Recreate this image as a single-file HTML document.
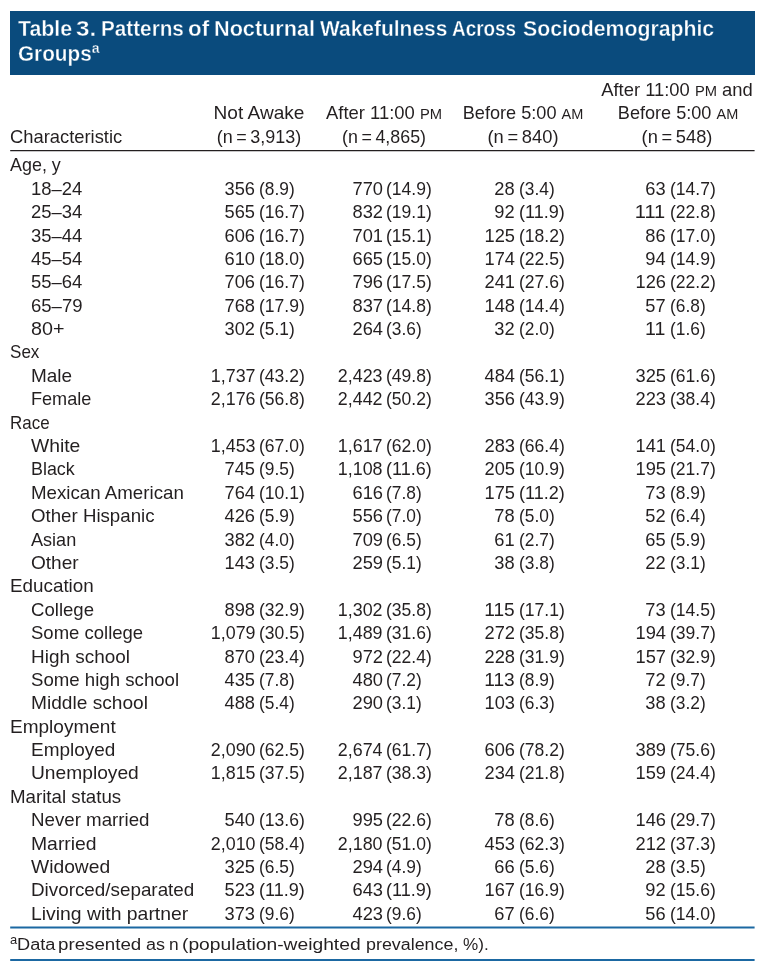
<!DOCTYPE html>
<html lang="en"><head><meta charset="utf-8"><title>Table 3. Patterns of Nocturnal Wakefulness Across Sociodemographic Groups</title>
<style>
html,body{margin:0;padding:0;background:#fff;}
body{width:768px;height:977px;position:relative;overflow:hidden;font-family:"Liberation Sans",Arial,sans-serif;color:#231f20;}
#page{position:absolute;left:0;top:0;width:768px;height:977px;will-change:transform;}
.t{position:absolute;white-space:nowrap;line-height:1;display:block;}
.l{transform-origin:0 0;}.r{transform-origin:100% 0;}.c{transform-origin:50% 0;}
.ti{color:#fff;font-weight:bold;-webkit-text-stroke:0.35px #0a4b7d;}
.sc{font-size:0.8em;}
.sup{font-size:0.68em;position:relative;top:-0.52em;}

#band{position:absolute;left:10px;top:11px;width:745px;height:64px;background:#0a4b7d;}
</style></head><body>
<div id="page">
<div id="band"></div>
<svg id="rules" width="768" height="977" viewBox="0 0 768 977" style="position:absolute;left:0;top:0"><line x1="10.2" x2="754.6" y1="150.6" y2="150.6" stroke="#231f20" stroke-width="1.3"/><line x1="10.2" x2="754.6" y1="927.5" y2="927.5" stroke="#1b68a2" stroke-width="1.8"/><line x1="10.2" x2="754.6" y1="960.0" y2="960.0" stroke="#1b68a2" stroke-width="1.8"/></svg>
<div id="t0" class="t l " style="top:156.00px;font-size:18.60px;left:10.00px;transform:scaleX(0.9637);"><span>Age, y</span></div>
<div id="t1" class="t l " style="top:180.00px;font-size:18.60px;left:31.00px;transform:scaleX(0.9934);"><span>18–24</span></div>
<div id="t2" class="t r " style="top:180.00px;font-size:18.60px;right:512.60px;transform:scaleX(0.9820);"><span>356</span></div>
<div id="t3" class="t l " style="top:180.00px;font-size:18.60px;left:258.90px;transform:scaleX(0.9327);"><span>(8.9)</span></div>
<div id="t4" class="t r " style="top:180.00px;font-size:18.60px;right:385.10px;transform:scaleX(0.9820);"><span>770</span></div>
<div id="t5" class="t l " style="top:180.00px;font-size:18.60px;left:386.40px;transform:scaleX(0.9432);"><span>(14.9)</span></div>
<div id="t6" class="t r " style="top:180.00px;font-size:18.60px;right:253.10px;transform:scaleX(0.9820);"><span>28</span></div>
<div id="t7" class="t l " style="top:180.00px;font-size:18.60px;left:518.80px;transform:scaleX(0.9327);"><span>(3.4)</span></div>
<div id="t8" class="t r " style="top:180.00px;font-size:18.60px;right:102.40px;transform:scaleX(0.9820);"><span>63</span></div>
<div id="t9" class="t l " style="top:180.00px;font-size:18.60px;left:669.80px;transform:scaleX(0.9432);"><span>(14.7)</span></div>
<div id="t10" class="t l " style="top:203.00px;font-size:18.60px;left:31.00px;transform:scaleX(0.9934);"><span>25–34</span></div>
<div id="t11" class="t r " style="top:203.00px;font-size:18.60px;right:512.60px;transform:scaleX(0.9820);"><span>565</span></div>
<div id="t12" class="t l " style="top:203.00px;font-size:18.60px;left:258.90px;transform:scaleX(0.9432);"><span>(16.7)</span></div>
<div id="t13" class="t r " style="top:203.00px;font-size:18.60px;right:385.10px;transform:scaleX(0.9820);"><span>832</span></div>
<div id="t14" class="t l " style="top:203.00px;font-size:18.60px;left:386.40px;transform:scaleX(0.9432);"><span>(19.1)</span></div>
<div id="t15" class="t r " style="top:203.00px;font-size:18.60px;right:253.10px;transform:scaleX(0.9820);"><span>92</span></div>
<div id="t16" class="t l " style="top:203.00px;font-size:18.60px;left:518.80px;transform:scaleX(0.9706);"><span>(11.9)</span></div>
<div id="t17" class="t r " style="top:203.00px;font-size:18.60px;right:102.40px;transform:scaleX(1.0781);"><span>111</span></div>
<div id="t18" class="t l " style="top:203.00px;font-size:18.60px;left:669.80px;transform:scaleX(0.9432);"><span>(22.8)</span></div>
<div id="t19" class="t l " style="top:227.00px;font-size:18.60px;left:31.00px;transform:scaleX(0.9934);"><span>35–44</span></div>
<div id="t20" class="t r " style="top:227.00px;font-size:18.60px;right:512.60px;transform:scaleX(0.9820);"><span>606</span></div>
<div id="t21" class="t l " style="top:227.00px;font-size:18.60px;left:258.90px;transform:scaleX(0.9432);"><span>(16.7)</span></div>
<div id="t22" class="t r " style="top:227.00px;font-size:18.60px;right:385.10px;transform:scaleX(0.9820);"><span>701</span></div>
<div id="t23" class="t l " style="top:227.00px;font-size:18.60px;left:386.40px;transform:scaleX(0.9432);"><span>(15.1)</span></div>
<div id="t24" class="t r " style="top:227.00px;font-size:18.60px;right:253.10px;transform:scaleX(0.9820);"><span>125</span></div>
<div id="t25" class="t l " style="top:227.00px;font-size:18.60px;left:518.80px;transform:scaleX(0.9432);"><span>(18.2)</span></div>
<div id="t26" class="t r " style="top:227.00px;font-size:18.60px;right:102.40px;transform:scaleX(0.9820);"><span>86</span></div>
<div id="t27" class="t l " style="top:227.00px;font-size:18.60px;left:669.80px;transform:scaleX(0.9432);"><span>(17.0)</span></div>
<div id="t28" class="t l " style="top:250.00px;font-size:18.60px;left:31.00px;transform:scaleX(0.9934);"><span>45–54</span></div>
<div id="t29" class="t r " style="top:250.00px;font-size:18.60px;right:512.60px;transform:scaleX(0.9820);"><span>610</span></div>
<div id="t30" class="t l " style="top:250.00px;font-size:18.60px;left:258.90px;transform:scaleX(0.9432);"><span>(18.0)</span></div>
<div id="t31" class="t r " style="top:250.00px;font-size:18.60px;right:385.10px;transform:scaleX(0.9820);"><span>665</span></div>
<div id="t32" class="t l " style="top:250.00px;font-size:18.60px;left:386.40px;transform:scaleX(0.9432);"><span>(15.0)</span></div>
<div id="t33" class="t r " style="top:250.00px;font-size:18.60px;right:253.10px;transform:scaleX(0.9820);"><span>174</span></div>
<div id="t34" class="t l " style="top:250.00px;font-size:18.60px;left:518.80px;transform:scaleX(0.9432);"><span>(22.5)</span></div>
<div id="t35" class="t r " style="top:250.00px;font-size:18.60px;right:102.40px;transform:scaleX(0.9820);"><span>94</span></div>
<div id="t36" class="t l " style="top:250.00px;font-size:18.60px;left:669.80px;transform:scaleX(0.9432);"><span>(14.9)</span></div>
<div id="t37" class="t l " style="top:273.00px;font-size:18.60px;left:31.00px;transform:scaleX(0.9934);"><span>55–64</span></div>
<div id="t38" class="t r " style="top:273.00px;font-size:18.60px;right:512.60px;transform:scaleX(0.9820);"><span>706</span></div>
<div id="t39" class="t l " style="top:273.00px;font-size:18.60px;left:258.90px;transform:scaleX(0.9432);"><span>(16.7)</span></div>
<div id="t40" class="t r " style="top:273.00px;font-size:18.60px;right:385.10px;transform:scaleX(0.9820);"><span>796</span></div>
<div id="t41" class="t l " style="top:273.00px;font-size:18.60px;left:386.40px;transform:scaleX(0.9432);"><span>(17.5)</span></div>
<div id="t42" class="t r " style="top:273.00px;font-size:18.60px;right:253.10px;transform:scaleX(0.9820);"><span>241</span></div>
<div id="t43" class="t l " style="top:273.00px;font-size:18.60px;left:518.80px;transform:scaleX(0.9432);"><span>(27.6)</span></div>
<div id="t44" class="t r " style="top:273.00px;font-size:18.60px;right:102.40px;transform:scaleX(0.9820);"><span>126</span></div>
<div id="t45" class="t l " style="top:273.00px;font-size:18.60px;left:669.80px;transform:scaleX(0.9432);"><span>(22.2)</span></div>
<div id="t46" class="t l " style="top:297.00px;font-size:18.60px;left:31.00px;transform:scaleX(0.9970);"><span>65–79</span></div>
<div id="t47" class="t r " style="top:297.00px;font-size:18.60px;right:512.60px;transform:scaleX(0.9820);"><span>768</span></div>
<div id="t48" class="t l " style="top:297.00px;font-size:18.60px;left:258.90px;transform:scaleX(0.9432);"><span>(17.9)</span></div>
<div id="t49" class="t r " style="top:297.00px;font-size:18.60px;right:385.10px;transform:scaleX(0.9820);"><span>837</span></div>
<div id="t50" class="t l " style="top:297.00px;font-size:18.60px;left:386.40px;transform:scaleX(0.9432);"><span>(14.8)</span></div>
<div id="t51" class="t r " style="top:297.00px;font-size:18.60px;right:253.10px;transform:scaleX(0.9820);"><span>148</span></div>
<div id="t52" class="t l " style="top:297.00px;font-size:18.60px;left:518.80px;transform:scaleX(0.9432);"><span>(14.4)</span></div>
<div id="t53" class="t r " style="top:297.00px;font-size:18.60px;right:102.40px;transform:scaleX(0.9820);"><span>57</span></div>
<div id="t54" class="t l " style="top:297.00px;font-size:18.60px;left:669.80px;transform:scaleX(0.9327);"><span>(6.8)</span></div>
<div id="t55" class="t l " style="top:320.00px;font-size:18.60px;left:31.00px;transform:scaleX(1.0604);"><span>80+</span></div>
<div id="t56" class="t r " style="top:320.00px;font-size:18.60px;right:512.60px;transform:scaleX(0.9820);"><span>302</span></div>
<div id="t57" class="t l " style="top:320.00px;font-size:18.60px;left:258.90px;transform:scaleX(0.9327);"><span>(5.1)</span></div>
<div id="t58" class="t r " style="top:320.00px;font-size:18.60px;right:385.10px;transform:scaleX(0.9820);"><span>264</span></div>
<div id="t59" class="t l " style="top:320.00px;font-size:18.60px;left:386.40px;transform:scaleX(0.9327);"><span>(3.6)</span></div>
<div id="t60" class="t r " style="top:320.00px;font-size:18.60px;right:253.10px;transform:scaleX(0.9820);"><span>32</span></div>
<div id="t61" class="t l " style="top:320.00px;font-size:18.60px;left:518.80px;transform:scaleX(0.9327);"><span>(2.0)</span></div>
<div id="t62" class="t r " style="top:320.00px;font-size:18.60px;right:102.40px;transform:scaleX(1.0519);"><span>11</span></div>
<div id="t63" class="t l " style="top:320.00px;font-size:18.60px;left:669.80px;transform:scaleX(0.9327);"><span>(1.6)</span></div>
<div id="t64" class="t l " style="top:343.00px;font-size:18.60px;left:10.00px;transform:scaleX(0.9177);"><span>Sex</span></div>
<div id="t65" class="t l " style="top:367.00px;font-size:18.60px;left:31.00px;transform:scaleX(1.0197);"><span>Male</span></div>
<div id="t66" class="t r " style="top:367.00px;font-size:18.60px;right:512.60px;transform:scaleX(0.9613);"><span>1,737</span></div>
<div id="t67" class="t l " style="top:367.00px;font-size:18.60px;left:258.90px;transform:scaleX(0.9432);"><span>(43.2)</span></div>
<div id="t68" class="t r " style="top:367.00px;font-size:18.60px;right:385.10px;transform:scaleX(0.9613);"><span>2,423</span></div>
<div id="t69" class="t l " style="top:367.00px;font-size:18.60px;left:386.40px;transform:scaleX(0.9432);"><span>(49.8)</span></div>
<div id="t70" class="t r " style="top:367.00px;font-size:18.60px;right:253.10px;transform:scaleX(0.9820);"><span>484</span></div>
<div id="t71" class="t l " style="top:367.00px;font-size:18.60px;left:518.80px;transform:scaleX(0.9432);"><span>(56.1)</span></div>
<div id="t72" class="t r " style="top:367.00px;font-size:18.60px;right:102.40px;transform:scaleX(0.9820);"><span>325</span></div>
<div id="t73" class="t l " style="top:367.00px;font-size:18.60px;left:669.80px;transform:scaleX(0.9432);"><span>(61.6)</span></div>
<div id="t74" class="t l " style="top:390.00px;font-size:18.60px;left:31.00px;transform:scaleX(0.9735);"><span>Female</span></div>
<div id="t75" class="t r " style="top:390.00px;font-size:18.60px;right:512.60px;transform:scaleX(0.9613);"><span>2,176</span></div>
<div id="t76" class="t l " style="top:390.00px;font-size:18.60px;left:258.90px;transform:scaleX(0.9432);"><span>(56.8)</span></div>
<div id="t77" class="t r " style="top:390.00px;font-size:18.60px;right:385.10px;transform:scaleX(0.9613);"><span>2,442</span></div>
<div id="t78" class="t l " style="top:390.00px;font-size:18.60px;left:386.40px;transform:scaleX(0.9432);"><span>(50.2)</span></div>
<div id="t79" class="t r " style="top:390.00px;font-size:18.60px;right:253.10px;transform:scaleX(0.9820);"><span>356</span></div>
<div id="t80" class="t l " style="top:390.00px;font-size:18.60px;left:518.80px;transform:scaleX(0.9432);"><span>(43.9)</span></div>
<div id="t81" class="t r " style="top:390.00px;font-size:18.60px;right:102.40px;transform:scaleX(0.9820);"><span>223</span></div>
<div id="t82" class="t l " style="top:390.00px;font-size:18.60px;left:669.80px;transform:scaleX(0.9432);"><span>(38.4)</span></div>
<div id="t83" class="t l " style="top:414.00px;font-size:18.60px;left:10.00px;transform:scaleX(0.9122);"><span>Race</span></div>
<div id="t84" class="t l " style="top:437.00px;font-size:18.60px;left:31.00px;transform:scaleX(1.0384);"><span>White</span></div>
<div id="t85" class="t r " style="top:437.00px;font-size:18.60px;right:512.60px;transform:scaleX(0.9613);"><span>1,453</span></div>
<div id="t86" class="t l " style="top:437.00px;font-size:18.60px;left:258.90px;transform:scaleX(0.9432);"><span>(67.0)</span></div>
<div id="t87" class="t r " style="top:437.00px;font-size:18.60px;right:385.10px;transform:scaleX(0.9613);"><span>1,617</span></div>
<div id="t88" class="t l " style="top:437.00px;font-size:18.60px;left:386.40px;transform:scaleX(0.9432);"><span>(62.0)</span></div>
<div id="t89" class="t r " style="top:437.00px;font-size:18.60px;right:253.10px;transform:scaleX(0.9820);"><span>283</span></div>
<div id="t90" class="t l " style="top:437.00px;font-size:18.60px;left:518.80px;transform:scaleX(0.9432);"><span>(66.4)</span></div>
<div id="t91" class="t r " style="top:437.00px;font-size:18.60px;right:102.40px;transform:scaleX(0.9820);"><span>141</span></div>
<div id="t92" class="t l " style="top:437.00px;font-size:18.60px;left:669.80px;transform:scaleX(0.9432);"><span>(54.0)</span></div>
<div id="t93" class="t l " style="top:460.00px;font-size:18.60px;left:31.00px;transform:scaleX(0.9627);"><span>Black</span></div>
<div id="t94" class="t r " style="top:460.00px;font-size:18.60px;right:512.60px;transform:scaleX(0.9820);"><span>745</span></div>
<div id="t95" class="t l " style="top:460.00px;font-size:18.60px;left:258.90px;transform:scaleX(0.9327);"><span>(9.5)</span></div>
<div id="t96" class="t r " style="top:460.00px;font-size:18.60px;right:385.10px;transform:scaleX(0.9613);"><span>1,108</span></div>
<div id="t97" class="t l " style="top:460.00px;font-size:18.60px;left:386.40px;transform:scaleX(0.9706);"><span>(11.6)</span></div>
<div id="t98" class="t r " style="top:460.00px;font-size:18.60px;right:253.10px;transform:scaleX(0.9820);"><span>205</span></div>
<div id="t99" class="t l " style="top:460.00px;font-size:18.60px;left:518.80px;transform:scaleX(0.9432);"><span>(10.9)</span></div>
<div id="t100" class="t r " style="top:460.00px;font-size:18.60px;right:102.40px;transform:scaleX(0.9820);"><span>195</span></div>
<div id="t101" class="t l " style="top:460.00px;font-size:18.60px;left:669.80px;transform:scaleX(0.9432);"><span>(21.7)</span></div>
<div id="t102" class="t l " style="top:484.00px;font-size:18.60px;left:31.00px;transform:scaleX(1.0057);"><span>Mexican American</span></div>
<div id="t103" class="t r " style="top:484.00px;font-size:18.60px;right:512.60px;transform:scaleX(0.9820);"><span>764</span></div>
<div id="t104" class="t l " style="top:484.00px;font-size:18.60px;left:258.90px;transform:scaleX(0.9432);"><span>(10.1)</span></div>
<div id="t105" class="t r " style="top:484.00px;font-size:18.60px;right:385.10px;transform:scaleX(0.9820);"><span>616</span></div>
<div id="t106" class="t l " style="top:484.00px;font-size:18.60px;left:386.40px;transform:scaleX(0.9327);"><span>(7.8)</span></div>
<div id="t107" class="t r " style="top:484.00px;font-size:18.60px;right:253.10px;transform:scaleX(0.9820);"><span>175</span></div>
<div id="t108" class="t l " style="top:484.00px;font-size:18.60px;left:518.80px;transform:scaleX(0.9706);"><span>(11.2)</span></div>
<div id="t109" class="t r " style="top:484.00px;font-size:18.60px;right:102.40px;transform:scaleX(0.9820);"><span>73</span></div>
<div id="t110" class="t l " style="top:484.00px;font-size:18.60px;left:669.80px;transform:scaleX(0.9327);"><span>(8.9)</span></div>
<div id="t111" class="t l " style="top:507.00px;font-size:18.60px;left:31.00px;transform:scaleX(1.0043);"><span>Other Hispanic</span></div>
<div id="t112" class="t r " style="top:507.00px;font-size:18.60px;right:512.60px;transform:scaleX(0.9820);"><span>426</span></div>
<div id="t113" class="t l " style="top:507.00px;font-size:18.60px;left:258.90px;transform:scaleX(0.9327);"><span>(5.9)</span></div>
<div id="t114" class="t r " style="top:507.00px;font-size:18.60px;right:385.10px;transform:scaleX(0.9820);"><span>556</span></div>
<div id="t115" class="t l " style="top:507.00px;font-size:18.60px;left:386.40px;transform:scaleX(0.9327);"><span>(7.0)</span></div>
<div id="t116" class="t r " style="top:507.00px;font-size:18.60px;right:253.10px;transform:scaleX(0.9820);"><span>78</span></div>
<div id="t117" class="t l " style="top:507.00px;font-size:18.60px;left:518.80px;transform:scaleX(0.9327);"><span>(5.0)</span></div>
<div id="t118" class="t r " style="top:507.00px;font-size:18.60px;right:102.40px;transform:scaleX(0.9820);"><span>52</span></div>
<div id="t119" class="t l " style="top:507.00px;font-size:18.60px;left:669.80px;transform:scaleX(0.9327);"><span>(6.4)</span></div>
<div id="t120" class="t l " style="top:531.00px;font-size:18.60px;left:31.00px;transform:scaleX(0.9724);"><span>Asian</span></div>
<div id="t121" class="t r " style="top:531.00px;font-size:18.60px;right:512.60px;transform:scaleX(0.9820);"><span>382</span></div>
<div id="t122" class="t l " style="top:531.00px;font-size:18.60px;left:258.90px;transform:scaleX(0.9327);"><span>(4.0)</span></div>
<div id="t123" class="t r " style="top:531.00px;font-size:18.60px;right:385.10px;transform:scaleX(0.9820);"><span>709</span></div>
<div id="t124" class="t l " style="top:531.00px;font-size:18.60px;left:386.40px;transform:scaleX(0.9327);"><span>(6.5)</span></div>
<div id="t125" class="t r " style="top:531.00px;font-size:18.60px;right:253.10px;transform:scaleX(0.9820);"><span>61</span></div>
<div id="t126" class="t l " style="top:531.00px;font-size:18.60px;left:518.80px;transform:scaleX(0.9327);"><span>(2.7)</span></div>
<div id="t127" class="t r " style="top:531.00px;font-size:18.60px;right:102.40px;transform:scaleX(0.9820);"><span>65</span></div>
<div id="t128" class="t l " style="top:531.00px;font-size:18.60px;left:669.80px;transform:scaleX(0.9327);"><span>(5.9)</span></div>
<div id="t129" class="t l " style="top:554.00px;font-size:18.60px;left:31.00px;transform:scaleX(1.0240);"><span>Other</span></div>
<div id="t130" class="t r " style="top:554.00px;font-size:18.60px;right:512.60px;transform:scaleX(0.9820);"><span>143</span></div>
<div id="t131" class="t l " style="top:554.00px;font-size:18.60px;left:258.90px;transform:scaleX(0.9327);"><span>(3.5)</span></div>
<div id="t132" class="t r " style="top:554.00px;font-size:18.60px;right:385.10px;transform:scaleX(0.9820);"><span>259</span></div>
<div id="t133" class="t l " style="top:554.00px;font-size:18.60px;left:386.40px;transform:scaleX(0.9327);"><span>(5.1)</span></div>
<div id="t134" class="t r " style="top:554.00px;font-size:18.60px;right:253.10px;transform:scaleX(0.9820);"><span>38</span></div>
<div id="t135" class="t l " style="top:554.00px;font-size:18.60px;left:518.80px;transform:scaleX(0.9327);"><span>(3.8)</span></div>
<div id="t136" class="t r " style="top:554.00px;font-size:18.60px;right:102.40px;transform:scaleX(0.9820);"><span>22</span></div>
<div id="t137" class="t l " style="top:554.00px;font-size:18.60px;left:669.80px;transform:scaleX(0.9327);"><span>(3.1)</span></div>
<div id="t138" class="t l " style="top:577.00px;font-size:18.60px;left:10.00px;transform:scaleX(1.0127);"><span>Education</span></div>
<div id="t139" class="t l " style="top:601.00px;font-size:18.60px;left:31.00px;transform:scaleX(0.9993);"><span>College</span></div>
<div id="t140" class="t r " style="top:601.00px;font-size:18.60px;right:512.60px;transform:scaleX(0.9820);"><span>898</span></div>
<div id="t141" class="t l " style="top:601.00px;font-size:18.60px;left:258.90px;transform:scaleX(0.9432);"><span>(32.9)</span></div>
<div id="t142" class="t r " style="top:601.00px;font-size:18.60px;right:385.10px;transform:scaleX(0.9613);"><span>1,302</span></div>
<div id="t143" class="t l " style="top:601.00px;font-size:18.60px;left:386.40px;transform:scaleX(0.9432);"><span>(35.8)</span></div>
<div id="t144" class="t r " style="top:601.00px;font-size:18.60px;right:253.10px;transform:scaleX(1.0275);"><span>115</span></div>
<div id="t145" class="t l " style="top:601.00px;font-size:18.60px;left:518.80px;transform:scaleX(0.9432);"><span>(17.1)</span></div>
<div id="t146" class="t r " style="top:601.00px;font-size:18.60px;right:102.40px;transform:scaleX(0.9820);"><span>73</span></div>
<div id="t147" class="t l " style="top:601.00px;font-size:18.60px;left:669.80px;transform:scaleX(0.9432);"><span>(14.5)</span></div>
<div id="t148" class="t l " style="top:624.00px;font-size:18.60px;left:31.00px;transform:scaleX(0.9956);"><span>Some college</span></div>
<div id="t149" class="t r " style="top:624.00px;font-size:18.60px;right:512.60px;transform:scaleX(0.9613);"><span>1,079</span></div>
<div id="t150" class="t l " style="top:624.00px;font-size:18.60px;left:258.90px;transform:scaleX(0.9432);"><span>(30.5)</span></div>
<div id="t151" class="t r " style="top:624.00px;font-size:18.60px;right:385.10px;transform:scaleX(0.9613);"><span>1,489</span></div>
<div id="t152" class="t l " style="top:624.00px;font-size:18.60px;left:386.40px;transform:scaleX(0.9432);"><span>(31.6)</span></div>
<div id="t153" class="t r " style="top:624.00px;font-size:18.60px;right:253.10px;transform:scaleX(0.9820);"><span>272</span></div>
<div id="t154" class="t l " style="top:624.00px;font-size:18.60px;left:518.80px;transform:scaleX(0.9432);"><span>(35.8)</span></div>
<div id="t155" class="t r " style="top:624.00px;font-size:18.60px;right:102.40px;transform:scaleX(0.9820);"><span>194</span></div>
<div id="t156" class="t l " style="top:624.00px;font-size:18.60px;left:669.80px;transform:scaleX(0.9432);"><span>(39.7)</span></div>
<div id="t157" class="t l " style="top:648.00px;font-size:18.60px;left:31.00px;transform:scaleX(1.0183);"><span>High school</span></div>
<div id="t158" class="t r " style="top:648.00px;font-size:18.60px;right:512.60px;transform:scaleX(0.9820);"><span>870</span></div>
<div id="t159" class="t l " style="top:648.00px;font-size:18.60px;left:258.90px;transform:scaleX(0.9432);"><span>(23.4)</span></div>
<div id="t160" class="t r " style="top:648.00px;font-size:18.60px;right:385.10px;transform:scaleX(0.9820);"><span>972</span></div>
<div id="t161" class="t l " style="top:648.00px;font-size:18.60px;left:386.40px;transform:scaleX(0.9432);"><span>(22.4)</span></div>
<div id="t162" class="t r " style="top:648.00px;font-size:18.60px;right:253.10px;transform:scaleX(0.9820);"><span>228</span></div>
<div id="t163" class="t l " style="top:648.00px;font-size:18.60px;left:518.80px;transform:scaleX(0.9432);"><span>(31.9)</span></div>
<div id="t164" class="t r " style="top:648.00px;font-size:18.60px;right:102.40px;transform:scaleX(0.9820);"><span>157</span></div>
<div id="t165" class="t l " style="top:648.00px;font-size:18.60px;left:669.80px;transform:scaleX(0.9432);"><span>(32.9)</span></div>
<div id="t166" class="t l " style="top:671.00px;font-size:18.60px;left:31.00px;transform:scaleX(1.0021);"><span>Some high school</span></div>
<div id="t167" class="t r " style="top:671.00px;font-size:18.60px;right:512.60px;transform:scaleX(0.9820);"><span>435</span></div>
<div id="t168" class="t l " style="top:671.00px;font-size:18.60px;left:258.90px;transform:scaleX(0.9327);"><span>(7.8)</span></div>
<div id="t169" class="t r " style="top:671.00px;font-size:18.60px;right:385.10px;transform:scaleX(0.9820);"><span>480</span></div>
<div id="t170" class="t l " style="top:671.00px;font-size:18.60px;left:386.40px;transform:scaleX(0.9327);"><span>(7.2)</span></div>
<div id="t171" class="t r " style="top:671.00px;font-size:18.60px;right:253.10px;transform:scaleX(1.0275);"><span>113</span></div>
<div id="t172" class="t l " style="top:671.00px;font-size:18.60px;left:518.80px;transform:scaleX(0.9327);"><span>(8.9)</span></div>
<div id="t173" class="t r " style="top:671.00px;font-size:18.60px;right:102.40px;transform:scaleX(0.9820);"><span>72</span></div>
<div id="t174" class="t l " style="top:671.00px;font-size:18.60px;left:669.80px;transform:scaleX(0.9327);"><span>(9.7)</span></div>
<div id="t175" class="t l " style="top:694.00px;font-size:18.60px;left:31.00px;transform:scaleX(1.0285);"><span>Middle school</span></div>
<div id="t176" class="t r " style="top:694.00px;font-size:18.60px;right:512.60px;transform:scaleX(0.9820);"><span>488</span></div>
<div id="t177" class="t l " style="top:694.00px;font-size:18.60px;left:258.90px;transform:scaleX(0.9327);"><span>(5.4)</span></div>
<div id="t178" class="t r " style="top:694.00px;font-size:18.60px;right:385.10px;transform:scaleX(0.9820);"><span>290</span></div>
<div id="t179" class="t l " style="top:694.00px;font-size:18.60px;left:386.40px;transform:scaleX(0.9327);"><span>(3.1)</span></div>
<div id="t180" class="t r " style="top:694.00px;font-size:18.60px;right:253.10px;transform:scaleX(0.9820);"><span>103</span></div>
<div id="t181" class="t l " style="top:694.00px;font-size:18.60px;left:518.80px;transform:scaleX(0.9327);"><span>(6.3)</span></div>
<div id="t182" class="t r " style="top:694.00px;font-size:18.60px;right:102.40px;transform:scaleX(0.9820);"><span>38</span></div>
<div id="t183" class="t l " style="top:694.00px;font-size:18.60px;left:669.80px;transform:scaleX(0.9327);"><span>(3.2)</span></div>
<div id="t184" class="t l " style="top:718.00px;font-size:18.60px;left:10.00px;transform:scaleX(1.0232);"><span>Employment</span></div>
<div id="t185" class="t l " style="top:741.00px;font-size:18.60px;left:31.00px;transform:scaleX(1.0198);"><span>Employed</span></div>
<div id="t186" class="t r " style="top:741.00px;font-size:18.60px;right:512.60px;transform:scaleX(0.9613);"><span>2,090</span></div>
<div id="t187" class="t l " style="top:741.00px;font-size:18.60px;left:258.90px;transform:scaleX(0.9432);"><span>(62.5)</span></div>
<div id="t188" class="t r " style="top:741.00px;font-size:18.60px;right:385.10px;transform:scaleX(0.9613);"><span>2,674</span></div>
<div id="t189" class="t l " style="top:741.00px;font-size:18.60px;left:386.40px;transform:scaleX(0.9432);"><span>(61.7)</span></div>
<div id="t190" class="t r " style="top:741.00px;font-size:18.60px;right:253.10px;transform:scaleX(0.9820);"><span>606</span></div>
<div id="t191" class="t l " style="top:741.00px;font-size:18.60px;left:518.80px;transform:scaleX(0.9432);"><span>(78.2)</span></div>
<div id="t192" class="t r " style="top:741.00px;font-size:18.60px;right:102.40px;transform:scaleX(0.9820);"><span>389</span></div>
<div id="t193" class="t l " style="top:741.00px;font-size:18.60px;left:669.80px;transform:scaleX(0.9432);"><span>(75.6)</span></div>
<div id="t194" class="t l " style="top:764.00px;font-size:18.60px;left:31.00px;transform:scaleX(1.0327);"><span>Unemployed</span></div>
<div id="t195" class="t r " style="top:764.00px;font-size:18.60px;right:512.60px;transform:scaleX(0.9613);"><span>1,815</span></div>
<div id="t196" class="t l " style="top:764.00px;font-size:18.60px;left:258.90px;transform:scaleX(0.9432);"><span>(37.5)</span></div>
<div id="t197" class="t r " style="top:764.00px;font-size:18.60px;right:385.10px;transform:scaleX(0.9613);"><span>2,187</span></div>
<div id="t198" class="t l " style="top:764.00px;font-size:18.60px;left:386.40px;transform:scaleX(0.9432);"><span>(38.3)</span></div>
<div id="t199" class="t r " style="top:764.00px;font-size:18.60px;right:253.10px;transform:scaleX(0.9820);"><span>234</span></div>
<div id="t200" class="t l " style="top:764.00px;font-size:18.60px;left:518.80px;transform:scaleX(0.9432);"><span>(21.8)</span></div>
<div id="t201" class="t r " style="top:764.00px;font-size:18.60px;right:102.40px;transform:scaleX(0.9820);"><span>159</span></div>
<div id="t202" class="t l " style="top:764.00px;font-size:18.60px;left:669.80px;transform:scaleX(0.9432);"><span>(24.4)</span></div>
<div id="t203" class="t l " style="top:788.00px;font-size:18.60px;left:10.00px;transform:scaleX(1.0060);"><span>Marital status</span></div>
<div id="t204" class="t l " style="top:811.00px;font-size:18.60px;left:31.00px;transform:scaleX(1.0060);"><span>Never married</span></div>
<div id="t205" class="t r " style="top:811.00px;font-size:18.60px;right:512.60px;transform:scaleX(0.9820);"><span>540</span></div>
<div id="t206" class="t l " style="top:811.00px;font-size:18.60px;left:258.90px;transform:scaleX(0.9432);"><span>(13.6)</span></div>
<div id="t207" class="t r " style="top:811.00px;font-size:18.60px;right:385.10px;transform:scaleX(0.9820);"><span>995</span></div>
<div id="t208" class="t l " style="top:811.00px;font-size:18.60px;left:386.40px;transform:scaleX(0.9432);"><span>(22.6)</span></div>
<div id="t209" class="t r " style="top:811.00px;font-size:18.60px;right:253.10px;transform:scaleX(0.9820);"><span>78</span></div>
<div id="t210" class="t l " style="top:811.00px;font-size:18.60px;left:518.80px;transform:scaleX(0.9327);"><span>(8.6)</span></div>
<div id="t211" class="t r " style="top:811.00px;font-size:18.60px;right:102.40px;transform:scaleX(0.9820);"><span>146</span></div>
<div id="t212" class="t l " style="top:811.00px;font-size:18.60px;left:669.80px;transform:scaleX(0.9432);"><span>(29.7)</span></div>
<div id="t213" class="t l " style="top:835.00px;font-size:18.60px;left:31.00px;transform:scaleX(1.0409);"><span>Married</span></div>
<div id="t214" class="t r " style="top:835.00px;font-size:18.60px;right:512.60px;transform:scaleX(0.9613);"><span>2,010</span></div>
<div id="t215" class="t l " style="top:835.00px;font-size:18.60px;left:258.90px;transform:scaleX(0.9432);"><span>(58.4)</span></div>
<div id="t216" class="t r " style="top:835.00px;font-size:18.60px;right:385.10px;transform:scaleX(0.9613);"><span>2,180</span></div>
<div id="t217" class="t l " style="top:835.00px;font-size:18.60px;left:386.40px;transform:scaleX(0.9432);"><span>(51.0)</span></div>
<div id="t218" class="t r " style="top:835.00px;font-size:18.60px;right:253.10px;transform:scaleX(0.9820);"><span>453</span></div>
<div id="t219" class="t l " style="top:835.00px;font-size:18.60px;left:518.80px;transform:scaleX(0.9432);"><span>(62.3)</span></div>
<div id="t220" class="t r " style="top:835.00px;font-size:18.60px;right:102.40px;transform:scaleX(0.9820);"><span>212</span></div>
<div id="t221" class="t l " style="top:835.00px;font-size:18.60px;left:669.80px;transform:scaleX(0.9432);"><span>(37.3)</span></div>
<div id="t222" class="t l " style="top:858.00px;font-size:18.60px;left:31.00px;transform:scaleX(1.0350);"><span>Widowed</span></div>
<div id="t223" class="t r " style="top:858.00px;font-size:18.60px;right:512.60px;transform:scaleX(0.9820);"><span>325</span></div>
<div id="t224" class="t l " style="top:858.00px;font-size:18.60px;left:258.90px;transform:scaleX(0.9327);"><span>(6.5)</span></div>
<div id="t225" class="t r " style="top:858.00px;font-size:18.60px;right:385.10px;transform:scaleX(0.9820);"><span>294</span></div>
<div id="t226" class="t l " style="top:858.00px;font-size:18.60px;left:386.40px;transform:scaleX(0.9327);"><span>(4.9)</span></div>
<div id="t227" class="t r " style="top:858.00px;font-size:18.60px;right:253.10px;transform:scaleX(0.9820);"><span>66</span></div>
<div id="t228" class="t l " style="top:858.00px;font-size:18.60px;left:518.80px;transform:scaleX(0.9327);"><span>(5.6)</span></div>
<div id="t229" class="t r " style="top:858.00px;font-size:18.60px;right:102.40px;transform:scaleX(0.9820);"><span>28</span></div>
<div id="t230" class="t l " style="top:858.00px;font-size:18.60px;left:669.80px;transform:scaleX(0.9327);"><span>(3.5)</span></div>
<div id="t231" class="t l " style="top:881.00px;font-size:18.60px;left:31.00px;transform:scaleX(1.0128);"><span>Divorced/separated</span></div>
<div id="t232" class="t r " style="top:881.00px;font-size:18.60px;right:512.60px;transform:scaleX(0.9820);"><span>523</span></div>
<div id="t233" class="t l " style="top:881.00px;font-size:18.60px;left:258.90px;transform:scaleX(0.9706);"><span>(11.9)</span></div>
<div id="t234" class="t r " style="top:881.00px;font-size:18.60px;right:385.10px;transform:scaleX(0.9820);"><span>643</span></div>
<div id="t235" class="t l " style="top:881.00px;font-size:18.60px;left:386.40px;transform:scaleX(0.9706);"><span>(11.9)</span></div>
<div id="t236" class="t r " style="top:881.00px;font-size:18.60px;right:253.10px;transform:scaleX(0.9820);"><span>167</span></div>
<div id="t237" class="t l " style="top:881.00px;font-size:18.60px;left:518.80px;transform:scaleX(0.9432);"><span>(16.9)</span></div>
<div id="t238" class="t r " style="top:881.00px;font-size:18.60px;right:102.40px;transform:scaleX(0.9820);"><span>92</span></div>
<div id="t239" class="t l " style="top:881.00px;font-size:18.60px;left:669.80px;transform:scaleX(0.9432);"><span>(15.6)</span></div>
<div id="t240" class="t l " style="top:905.00px;font-size:18.60px;left:31.00px;transform:scaleX(1.0419);"><span>Living with partner</span></div>
<div id="t241" class="t r " style="top:905.00px;font-size:18.60px;right:512.60px;transform:scaleX(0.9820);"><span>373</span></div>
<div id="t242" class="t l " style="top:905.00px;font-size:18.60px;left:258.90px;transform:scaleX(0.9327);"><span>(9.6)</span></div>
<div id="t243" class="t r " style="top:905.00px;font-size:18.60px;right:385.10px;transform:scaleX(0.9820);"><span>423</span></div>
<div id="t244" class="t l " style="top:905.00px;font-size:18.60px;left:386.40px;transform:scaleX(0.9327);"><span>(9.6)</span></div>
<div id="t245" class="t r " style="top:905.00px;font-size:18.60px;right:253.10px;transform:scaleX(0.9820);"><span>67</span></div>
<div id="t246" class="t l " style="top:905.00px;font-size:18.60px;left:518.80px;transform:scaleX(0.9327);"><span>(6.6)</span></div>
<div id="t247" class="t r " style="top:905.00px;font-size:18.60px;right:102.40px;transform:scaleX(0.9820);"><span>56</span></div>
<div id="t248" class="t l " style="top:905.00px;font-size:18.60px;left:669.80px;transform:scaleX(0.9432);"><span>(14.0)</span></div>
<div id="t249" class="t l " style="top:128.00px;font-size:18.60px;left:10.30px;transform:scaleX(0.9871);"><span>Characteristic</span></div>
<div id="t250" class="t c " style="top:104.00px;font-size:18.60px;left:259.40px;width:400px;margin-left:-200px;text-align:center;transform:scaleX(1.0254);"><span>Not Awake</span></div>
<div id="t251" class="t c " style="top:128.00px;font-size:18.60px;left:259.30px;width:400px;margin-left:-200px;text-align:center;transform:scaleX(0.9650);"><span>(n = 3,913)</span></div>
<div id="t252" class="t c " style="top:104.00px;font-size:18.60px;left:384.40px;width:400px;margin-left:-200px;text-align:center;transform:scaleX(0.9909);"><span>After 11:00 <span class="sc">PM</span></span></div>
<div id="t253" class="t c " style="top:128.00px;font-size:18.60px;left:383.90px;width:400px;margin-left:-200px;text-align:center;transform:scaleX(0.9593);"><span>(n = 4,865)</span></div>
<div id="t254" class="t c " style="top:104.00px;font-size:18.60px;left:522.80px;width:400px;margin-left:-200px;text-align:center;transform:scaleX(0.9755);"><span>Before 5:00 <span class="sc">AM</span></span></div>
<div id="t255" class="t c " style="top:128.00px;font-size:18.60px;left:522.70px;width:400px;margin-left:-200px;text-align:center;transform:scaleX(0.9853);"><span>(n = 840)</span></div>
<div id="t256" class="t c " style="top:81.00px;font-size:18.60px;left:677.40px;width:400px;margin-left:-200px;text-align:center;transform:scaleX(0.9891);"><span>After 11:00 <span class="sc">PM</span> and</span></div>
<div id="t257" class="t c " style="top:104.00px;font-size:18.60px;left:677.70px;width:400px;margin-left:-200px;text-align:center;transform:scaleX(0.9739);"><span>Before 5:00 <span class="sc">AM</span></span></div>
<div id="t258" class="t c " style="top:128.00px;font-size:18.60px;left:677.20px;width:400px;margin-left:-200px;text-align:center;transform:scaleX(0.9825);"><span>(n = 548)</span></div>
<div id="t259" class="t l ti" style="top:19.00px;font-size:21.40px;left:18.44px;transform:scaleX(0.9966);"><span>Table</span></div>
<div id="t260" class="t l ti" style="top:19.00px;font-size:21.40px;left:76.41px;transform:scaleX(1.1322);"><span>3.</span></div>
<div id="t261" class="t l ti" style="top:19.00px;font-size:21.40px;left:101.01px;transform:scaleX(0.9681);"><span>Patterns</span></div>
<div id="t262" class="t l ti" style="top:19.00px;font-size:21.40px;left:188.20px;transform:scaleX(1.0432);"><span>of</span></div>
<div id="t263" class="t l ti" style="top:19.00px;font-size:21.40px;left:213.83px;transform:scaleX(1.0124);"><span>Nocturnal</span></div>
<div id="t264" class="t l ti" style="top:19.00px;font-size:21.40px;left:319.73px;transform:scaleX(0.9798);"><span>Wakefulness</span></div>
<div id="t265" class="t l ti" style="top:19.00px;font-size:21.40px;left:452.32px;transform:scaleX(0.8840);"><span>Across</span></div>
<div id="t266" class="t l ti" style="top:19.00px;font-size:21.40px;left:523.20px;transform:scaleX(0.9927);"><span>Sociodemographic</span></div>
<div id="t267" class="t l ti" style="top:44.00px;font-size:21.40px;left:18.00px;transform:scaleX(0.9684);"><span>Groups<span class="sup">a</span></span></div>
<div id="t268" class="t l " style="top:934.00px;font-size:12.80px;left:10.30px;transform:scaleX(1.0105);"><span>a</span></div>
<div id="t269" class="t l " style="top:937.00px;font-size:16.00px;left:16.73px;transform:scaleX(1.1376);"><span>Data</span></div>
<div id="t270" class="t l " style="top:937.00px;font-size:16.00px;left:58.25px;transform:scaleX(1.1701);"><span>presented</span></div>
<div id="t271" class="t l " style="top:937.00px;font-size:16.00px;left:145.80px;transform:scaleX(1.1249);"><span>as</span></div>
<div id="t272" class="t l " style="top:937.00px;font-size:16.00px;left:168.51px;transform:scaleX(1.0817);"><span>n</span></div>
<div id="t273" class="t l " style="top:937.00px;font-size:16.00px;left:182.45px;transform:scaleX(1.2022);"><span>(population-weighted</span></div>
<div id="t274" class="t l " style="top:937.00px;font-size:16.00px;left:365.63px;transform:scaleX(1.1163);"><span>prevalence,</span></div>
<div id="t275" class="t l " style="top:937.00px;font-size:16.00px;left:463.05px;transform:scaleX(1.0691);"><span>%).</span></div>
</div>
</body></html>
